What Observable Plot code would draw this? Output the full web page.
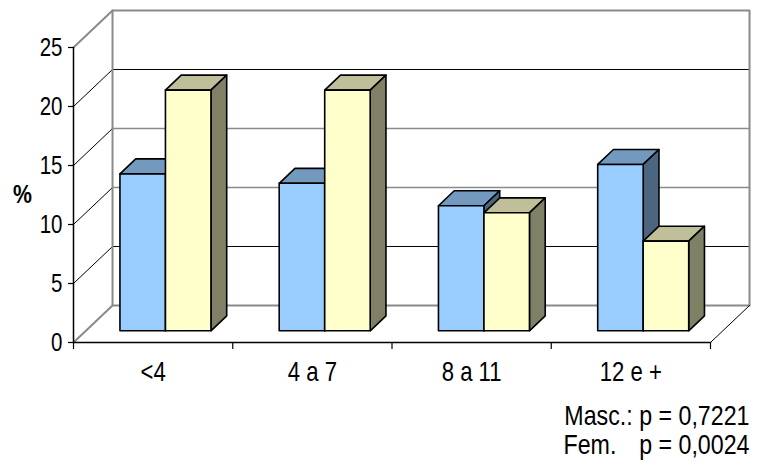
<!DOCTYPE html>
<html><head><meta charset="utf-8">
<script src="https://cdn.jsdelivr.net/npm/d3@7"></script>
<script src="https://cdn.jsdelivr.net/npm/@observablehq/plot@0.6"></script>
<style>body{margin:0;background:#fff;}</style>
</head><body><div id="chart"></div>
<script>
// ---- data ----
const categories = ["<4", "4 a 7", "8 a 11", "12 e +"];
const masc = [13.3, 12.5, 10.6, 14.1];
const fem = [20.4, 20.4, 10.0, 7.6];
const yTicks = [0, 5, 10, 15, 20, 25];
const yLabel = "%";
const notes = ["Masc.: p = 0,7221", "Fem.", "p = 0,0024"];

// ---- 3D box projection (depth z in [0,1], expressed in data units) ----
const KX = 0.245, KY = 3.136;
const Z0 = 0.316, Z1 = 0.72;
const GAP = 0.2143, BW = 0.2857;
const YMAX = 25, NC = categories.length;
const P = (x, y, z, id) => ({x: x + z * KX, y: y + z * KY, id});

function faces(values, offset) {
  const top = [], side = [], front = [];
  values.forEach((v, i) => {
    const x0 = i + GAP + offset * BW, x1 = x0 + BW;
    front.push(P(x0,0,Z0,i), P(x1,0,Z0,i), P(x1,v,Z0,i), P(x0,v,Z0,i));
    top.push(P(x0,v,Z0,i), P(x1,v,Z0,i), P(x1,v,Z1,i), P(x0,v,Z1,i));
    side.push(P(x1,0,Z0,i), P(x1,0,Z1,i), P(x1,v,Z1,i), P(x1,v,Z0,i));
  });
  return {top, side, front};
}
const m = faces(masc, 0), f = faces(fem, 1);

const backWall = [P(0,0,1,"w"), P(NC,0,1,"w"), P(NC,YMAX,1,"w"), P(0,YMAX,1,"w")];
const sideEdges = [0, YMAX].flatMap(t => [P(0,t,0,t), P(0,t,1,t)]);
const sideLines = yTicks.filter(t => t > 0 && t < YMAX).flatMap(t => [P(0,t,0,t), P(0,t,1,t)]);
const gridDark = yTicks.filter(t => t === 5 || t === 20).flatMap(t => [P(0,t,1,t), P(NC,t,1,t)]);
const gridGrey = yTicks.filter(t => t === 10 || t === 15).flatMap(t => [P(0,t,1,t), P(NC,t,1,t)]);
const floorRight = [P(NC,0,0,"r"), P(NC,0,1,"r")];
const xAxisLine = [P(0,0,0,"x"), P(NC,0,0,"x")];
const yAxisLine = [P(0,0,0,"y"), P(0,YMAX,0,"y")];

const FONT = "'Liberation Sans', Arial, sans-serif";
const line = (data, o) => Plot.line(data, {x: "x", y: "y", z: "id", ...o});
const poly = (data, fill) => Plot.line(data, {x: "x", y: "y", z: "id", curve: "linear-closed",
  fill, stroke: "black", strokeWidth: 1.6, strokeLinejoin: "round"});

const chart = Plot.plot({
  width: 760, height: 469,
  marginLeft: 73, marginRight: 50, marginTop: 47, marginBottom: 127,
  x: {domain: [0, NC], axis: null},
  y: {domain: [0, YMAX], axis: null},
  style: {fontFamily: FONT, background: "white", color: "black"},
  marks: [
    line(gridGrey, {stroke: "#8a8a8a", strokeWidth: 1.5}),
    line(gridDark, {stroke: "black", strokeWidth: 1}),
    line(sideLines, {stroke: "black", strokeWidth: 1}),
    line(backWall, {curve: "linear-closed", stroke: "#8a8a8a", strokeWidth: 2}),
    line(sideEdges, {stroke: "#8a8a8a", strokeWidth: 2}),
    line(floorRight, {stroke: "black", strokeWidth: 1}),
    line(xAxisLine, {stroke: "black", strokeWidth: 1.5}),
    line(yAxisLine, {stroke: "black", strokeWidth: 1.5}),
    Plot.axisY(yTicks, {label: null, tickSize: 5, tickPadding: 6, fontSize: 25, strokeWidth: 1.2}),
    Plot.axisX(d3.range(NC + 1), {label: null, tickSize: 7, tickFormat: () => "", strokeWidth: 1.2}),
    Plot.axisX(d3.range(NC).map(i => i + 0.5), {label: null, tickSize: 0, tickPadding: 19, fontSize: 27,
      tickFormat: d => categories[Math.floor(d)]}),
    Plot.text([yLabel], {frameAnchor: "left", dx: -51, textAnchor: "middle", lineAnchor: "middle",
      fontSize: 26, fontWeight: "bold"}),
    poly(m.top, "#7399bf"), poly(m.side, "#4c6680"), poly(m.front, "#99ccff"),
    poly(f.top, "#bfbf99"), poly(f.side, "#808066"), poly(f.front, "#ffffcc"),
    Plot.text([notes[0]], {frameAnchor: "bottom-right", dx: 39, dy: 82, textAnchor: "end", lineAnchor: "bottom", fontSize: 27}),
    Plot.text([notes[1]], {frameAnchor: "bottom-right", dx: -147, dy: 111, textAnchor: "start", lineAnchor: "bottom", fontSize: 27}),
    Plot.text([notes[2]], {frameAnchor: "bottom-right", dx: 39, dy: 111, textAnchor: "end", lineAnchor: "bottom", fontSize: 27})
  ]
});

// condense all texts horizontally (narrow typeface look), anchored at each text's own origin
chart.querySelectorAll("text").forEach(t => {
  const k = notes.includes(t.textContent) ? 0.86 : 0.82;
  const x = +(t.getAttribute("x") || 0);
  t.removeAttribute("x");
  const tr = t.getAttribute("transform") || "";
  t.setAttribute("transform", `${tr} translate(${x},0) scale(${k},1)`);
});
document.getElementById("chart").append(chart);
</script>
</body></html>
